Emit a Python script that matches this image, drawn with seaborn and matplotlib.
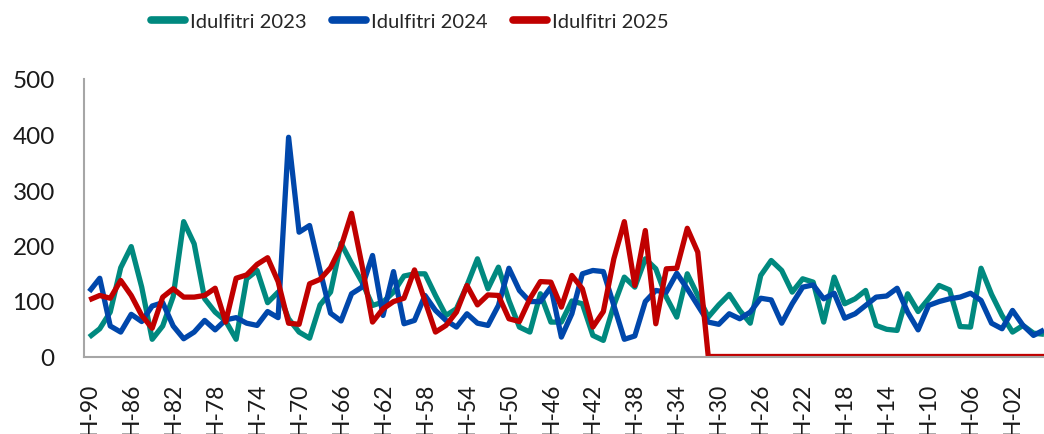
import numpy as np
import pandas as pd
import matplotlib
matplotlib.use("Agg")
import matplotlib.pyplot as plt
import seaborn as sns

# Day labels relative to Idulfitri (H-90 ... H-00, H+01)
days = [f"H-{d:02d}" for d in range(90, -1, -1)] + ["H+01"]

idulfitri_2023 = [35, 50, 80, 160, 198, 125, 31, 55, 108, 243,
                  203, 104, 80, 64, 31, 140, 155, 97, 116, 68,
                  44, 33, 93, 116, 204, 168, 134, 92, 98, 116,
                  145, 149, 149, 110, 74, 86, 128, 176, 122, 161,
                  101, 53, 44, 113, 62, 62, 100, 95, 38, 29,
                  92, 143, 125, 176, 158, 107, 71, 149, 110, 71,
                  93, 112, 83, 60, 146, 173, 155, 116, 140, 134,
                  62, 143, 95, 104, 119, 56, 49, 47, 113, 81,
                  104, 128, 120, 54, 53, 159, 112, 74, 44, 56,
                  42, 40]

idulfitri_2024 = [117, 141, 55, 44, 76, 63, 91, 97, 55, 32,
                  44, 65, 48, 66, 70, 60, 56, 81, 70, 395,
                  224, 236, 155, 78, 64, 113, 125, 182, 74, 153,
                  59, 65, 110, 83, 65, 53, 77, 60, 56, 92,
                  159, 119, 99, 99, 125, 35, 77, 149, 155, 153,
                  92, 31, 37, 99, 119, 116, 150, 122, 92, 62,
                  58, 77, 68, 80, 105, 102, 60, 95, 125, 129,
                  104, 114, 69, 77, 92, 107, 109, 123, 80, 48,
                  92, 99, 104, 107, 114, 101, 60, 50, 83, 56,
                  38, 48]

idulfitri_2025 = [102, 110, 105, 137, 110, 74, 51, 107, 122, 107,
                  107, 110, 123, 62, 141, 147, 166, 178, 135, 60,
                  58, 131, 139, 160, 198, 258, 164, 62, 86, 99,
                  105, 156, 100, 44, 56, 80, 128, 93, 111, 110,
                  68, 63, 104, 135, 134, 89, 146, 122, 53, 81,
                  176, 243, 128, 227, 59, 158, 159, 231, 188, 0,
                  0, 0, 0, 0, 0, 0, 0, 0, 0, 0,
                  0, 0, 0, 0, 0, 0, 0, 0, 0, 0,
                  0, 0, 0, 0, 0, 0, 0, 0, 0, 0,
                  0, 0]

series_names = ["Idulfitri 2023", "Idulfitri 2024", "Idulfitri 2025"]
colors = ["#00897F", "#0047AB", "#C00000"]
y_ticks = [0, 100, 200, 300, 400, 500]

frames = []
for name, vals in zip(series_names, [idulfitri_2023, idulfitri_2024, idulfitri_2025]):
    frames.append(pd.DataFrame({"pos": np.arange(len(days)), "day": days,
                                "value": vals, "series": name}))
df = pd.concat(frames, ignore_index=True)

sns.set_style("white")
plt.rcParams["font.family"] = ["Lato", "DejaVu Sans"]

fig = plt.figure(figsize=(10.44, 4.35), dpi=100)
ax = fig.add_axes([84 / 1044, 77.5 / 435, 960 / 1044, 277.5 / 435])

sns.lineplot(data=df, x="pos", y="value", hue="series", hue_order=series_names,
             palette=colors, linewidth=3.8, ax=ax, legend=False,
             estimator=None, sort=False)
for line in ax.get_lines():
    line.set_solid_joinstyle("round")
    line.set_solid_capstyle("butt")

ax.set_xlim(-0.5, 91.0)
ax.set_ylim(0, 500)
ax.set_yticks(y_ticks)
ax.set_yticklabels([str(t) for t in y_ticks], fontsize=17.5, color="#1a1a1a")
tick_pos = list(range(0, 89, 4))
ax.set_xticks(tick_pos)
ax.set_xticklabels([days[p] for p in tick_pos], rotation=90, fontsize=16.5,
                   color="#1a1a1a")
ax.tick_params(axis="both", length=0)
ax.tick_params(axis="y", pad=21)
ax.tick_params(axis="x", pad=18)
ax.set_xlabel("")
ax.set_ylabel("")

for side in ["top", "right"]:
    ax.spines[side].set_visible(False)
for side in ["left", "bottom"]:
    ax.spines[side].set_color("#A6A6A6")
    ax.spines[side].set_linewidth(1.5)

handles = [plt.Line2D([0], [0], color=c, linewidth=5.5, solid_capstyle="round")
           for c in colors]
fig.legend(handles, series_names, loc="center", bbox_to_anchor=(410 / 1044, 1 - 22 / 435),
           ncol=3, frameon=False, handlelength=1.7,
           handletextpad=0.25, columnspacing=1.25, labelcolor="#262626",
           prop={"size": 14.5})

fig.savefig("out.png", dpi=100)
